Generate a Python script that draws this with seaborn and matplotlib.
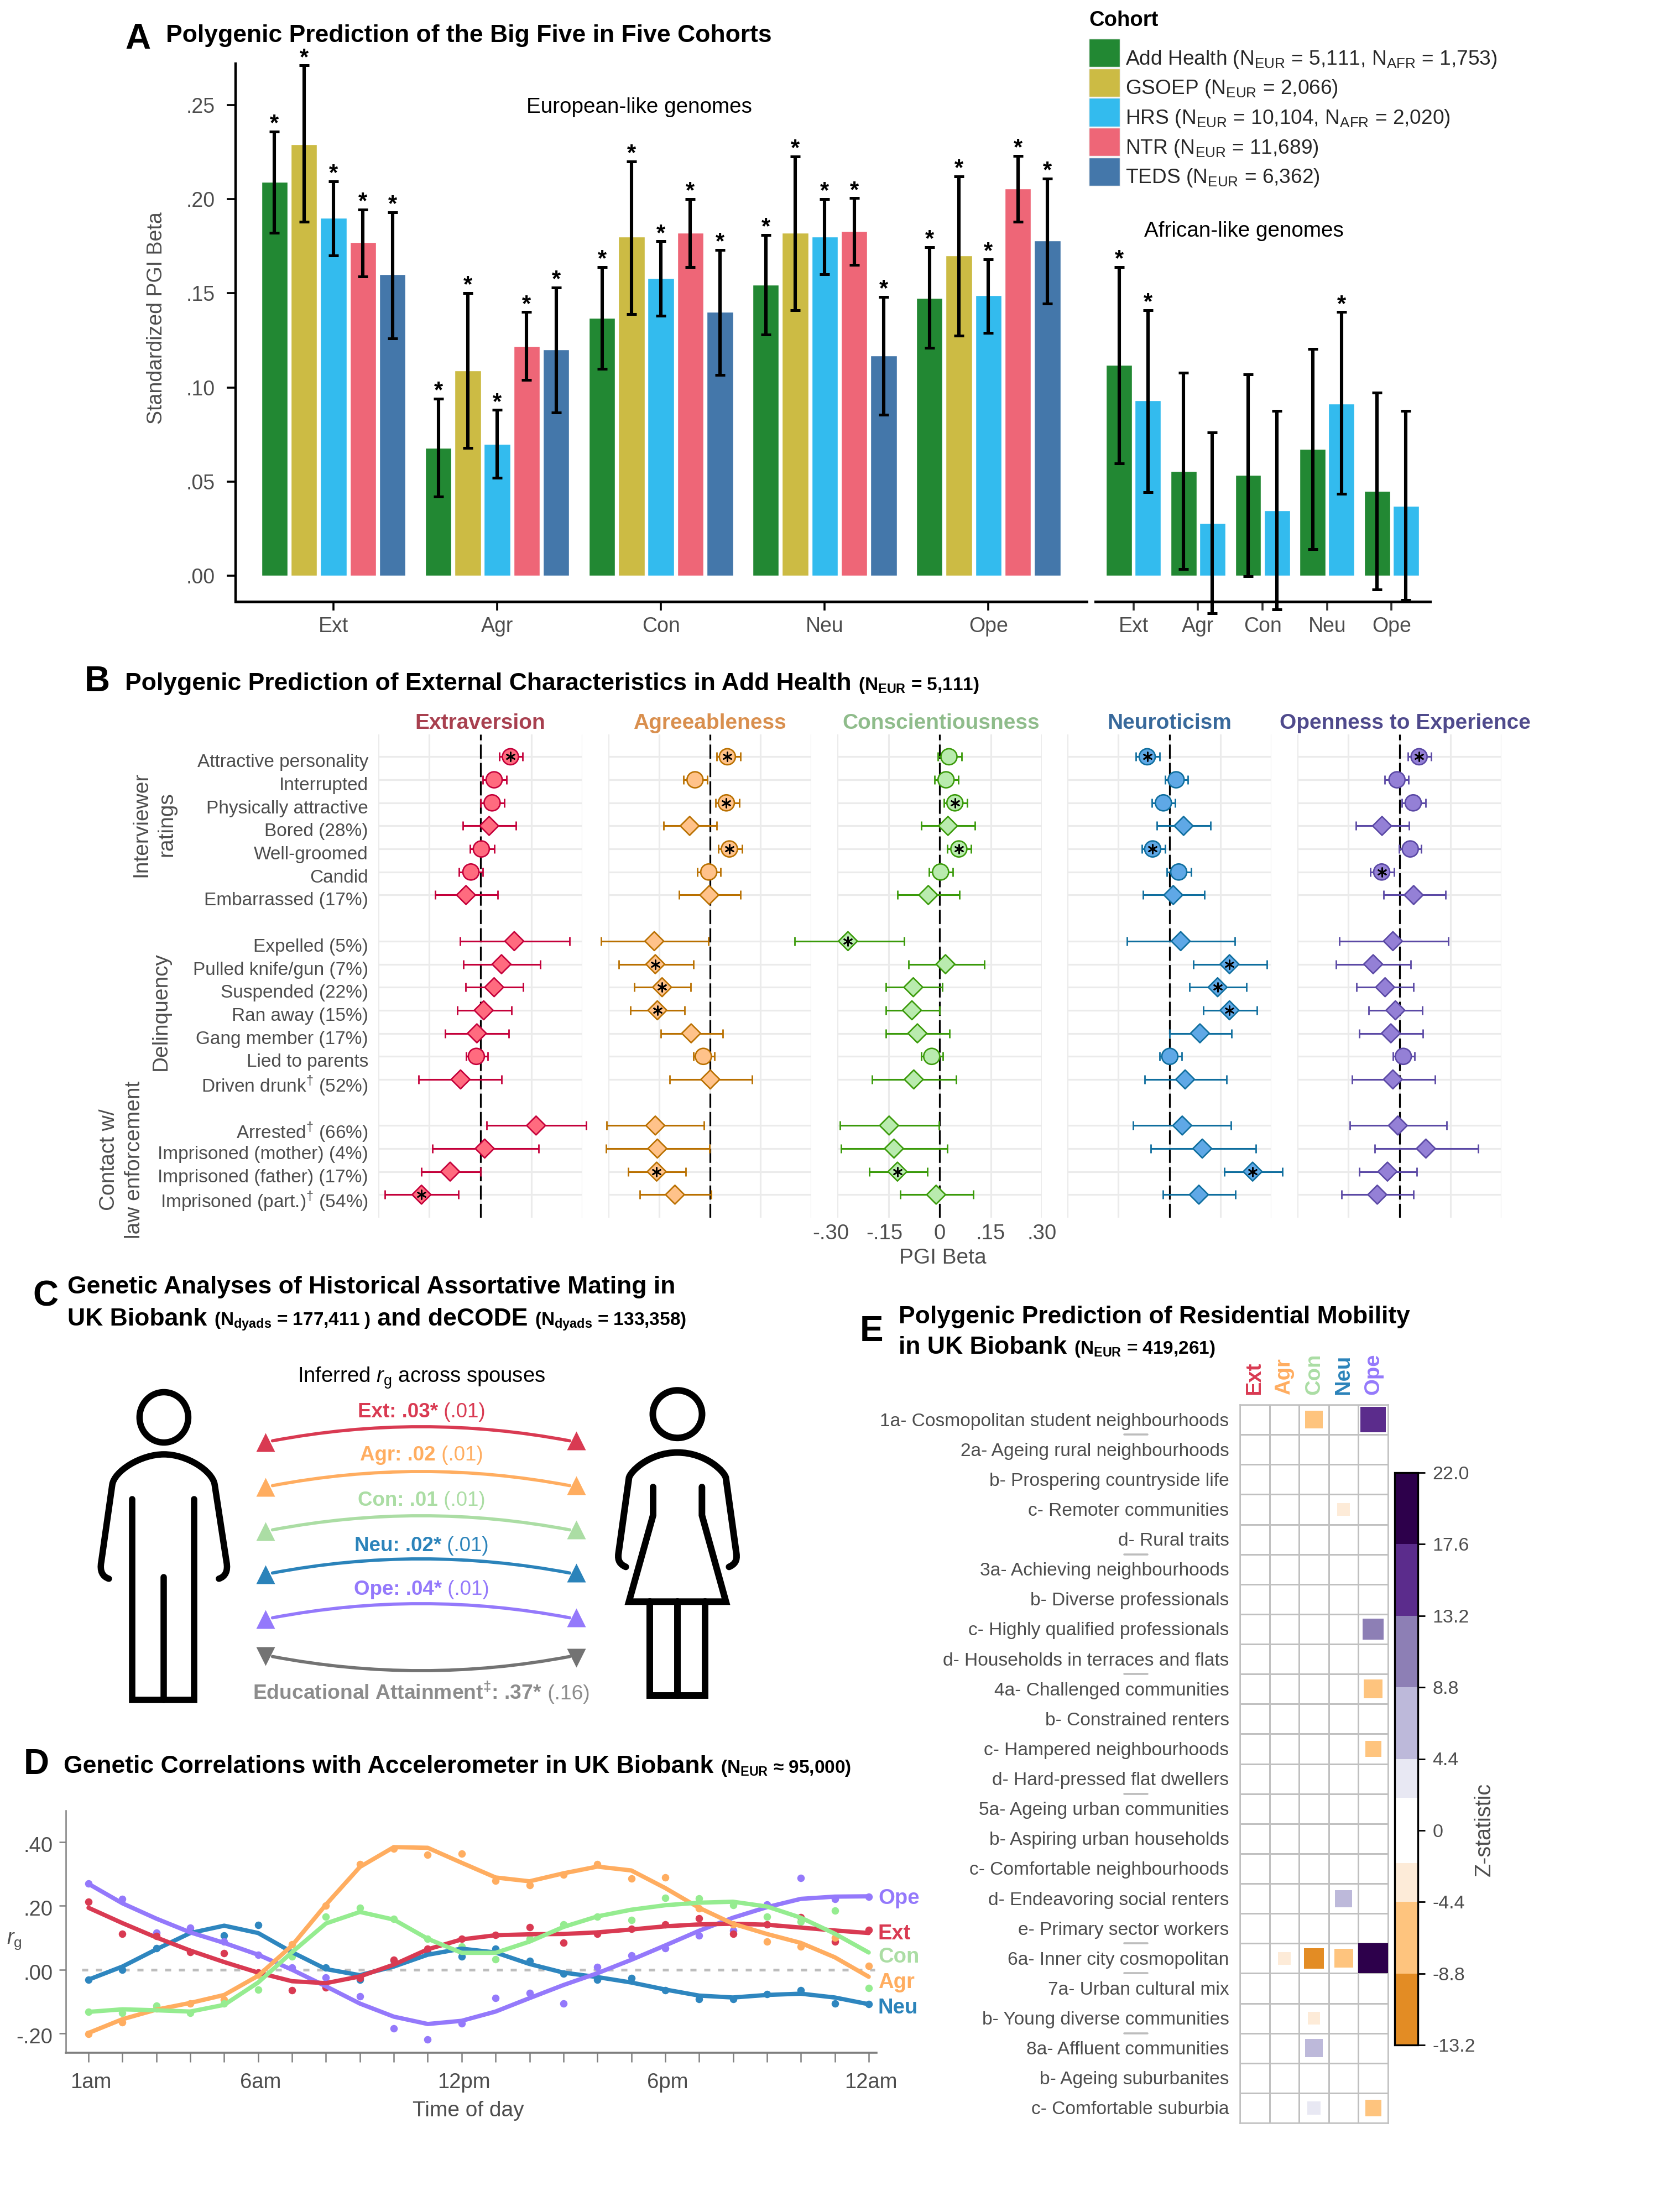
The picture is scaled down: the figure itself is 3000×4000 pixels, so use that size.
import numpy as np
import pandas as pd
import matplotlib
matplotlib.use('Agg')
import matplotlib.pyplot as plt
import seaborn as sns
from matplotlib.colors import ListedColormap, BoundaryNorm
from matplotlib.cm import ScalarMappable
from matplotlib.patches import Patch, Ellipse, PathPatch, Rectangle, FancyArrowPatch
from matplotlib.path import Path
from matplotlib.transforms import ScaledTranslation

sns.set_theme(style='white')
plt.rcParams['font.family'] = ['Liberation Sans', 'DejaVu Sans']
plt.rcParams['mathtext.fontset'] = 'custom'
plt.rcParams['mathtext.rm'] = 'Liberation Sans'
plt.rcParams['mathtext.it'] = 'Liberation Sans:italic'
plt.rcParams['mathtext.bf'] = 'Liberation Sans:bold'
plt.rcParams['mathtext.default'] = 'regular'

W, H = 3000, 4000
GREY = '#4D4D4D'

# ---- panel A data
traits = ['Ext', 'Agr', 'Con', 'Neu', 'Ope']
cohorts = ['Add Health', 'GSOEP', 'HRS', 'NTR', 'TEDS']
cohort_labels = [r'Add Health (N$_{EUR}$ = 5,111, N$_{AFR}$ = 1,753)',
                 r'GSOEP (N$_{EUR}$ = 2,066)',
                 r'HRS (N$_{EUR}$ = 10,104, N$_{AFR}$ = 2,020)',
                 r'NTR (N$_{EUR}$ = 11,689)',
                 r'TEDS (N$_{EUR}$ = 6,362)']
cohort_colors = ['#228833', '#CCBB44', '#33BBEE', '#EE6677', '#4477AA']

eur_beta = [[.209, .229, .190, .177, .160],
            [.068, .109, .070, .122, .120],
            [.137, .180, .158, .182, .140],
            [.1545, .182, .180, .183, .117],
            [.1475, .170, .149, .2055, .178]]
eur_lo = [[.182, .188, .170, .159, .126],
          [.042, .068, .052, .104, .0866],
          [.110, .139, .138, .164, .1066],
          [.128, .141, .160, .165, .0854],
          [.121, .1275, .129, .188, .1446]]
eur_hi = [[.236, .271, .2095, .1945, .193],
          [.094, .150, .088, .140, .153],
          [.164, .220, .1776, .200, .173],
          [.181, .2226, .200, .2005, .148],
          [.1745, .212, .168, .223, .211]]

afr_cohorts = ['Add Health', 'HRS']
afr_beta = [[.112, .093], [.0555, .028], [.0535, .0346], [.0672, .0915], [.045, .037]]
afr_lo = [[.0596, .0445], [.0036, -.020], [-.0004, -.018], [.014, .0434], [-.0074, -.013]]
afr_hi = [[.164, .141], [.1077, .076], [.1068, .0875], [.1205, .140], [.0973, .0875]]
afr_sig = [[True, True], [False, False], [False, False], [False, True], [False, False]]

# ---- panel B data
rows_b = ['Attractive personality', 'Interrupted', 'Physically attractive', 'Bored (28%)',
          'Well-groomed', 'Candid', 'Embarrassed (17%)',
          'Expelled (5%)', 'Pulled knife/gun (7%)', 'Suspended (22%)', 'Ran away (15%)',
          'Gang member (17%)', 'Lied to parents', r'Driven drunk$^{\dagger}$ (52%)',
          r'Arrested$^{\dagger}$ (66%)', 'Imprisoned (mother) (4%)',
          'Imprisoned (father) (17%)', r'Imprisoned (part.)$^{\dagger}$ (54%)']
row_pos = [0, 1, 2, 3, 4, 5, 6, 8, 9, 10, 11, 12, 13, 14, 16, 17, 18, 19]
row_shape = ['o', 'o', 'o', 'D', 'o', 'o', 'D', 'D', 'D', 'D', 'D', 'D', 'o', 'D', 'D', 'D', 'D', 'D']

ext_b = [.0886, .0407, .0348, .026, .003, -.0276, -.042, .100, .0624, .0407, .010, -.010, -.0116, -.058, .164, .013, -.0886, -.1728]
ext_lo = [.0566, .0073, .0015, -.052, -.0305, -.0624, -.132, -.0595, -.049, -.0436, -.0668, -.103, -.042, -.1815, .019, -.141, -.1728, -.280]
ext_hi = [.1249, .077, .0711, .1045, .0407, .0073, .051, .263, .1757, .1263, .0915, .084, .0218, .0624, .3107, .171, 0, -.065]
agr_b = [.052, -.0436, .049, -.0595, .058, -.003, -.0015, -.164, -.161, -.141, -.155, -.055, -.019, .0015, -.161, -.155, -.157, -.103]
agr_lo = [.020, -.077, .0174, -.1365, .026, -.036, -.090, -.322, -.2686, -.2236, -.234, -.145, -.049, -.119, -.305, -.3064, -.241, -.206]
agr_hi = [.090, -.007, .087, .020, .096, .032, .090, -.0044, -.049, -.0566, -.074, .038, .0145, .125, -.0174, -.0015, -.071, .0044]
con_b = [.0276, .019, .045, .0247, .0566, .003, -.033, -.2686, .0174, -.077, -.081, -.065, -.023, -.0755, -.148, -.1336, -.1234, -.010]
con_lo = [-.0044, -.0145, .013, -.0537, .023, -.0305, -.123, -.4254, -.0915, -.158, -.158, -.157, -.054, -.1975, -.292, -.289, -.206, -.115]
con_hi = [.0653, .055, .081, .1045, .093, .039, .058, -.1045, .1307, .0087, 0, .029, .010, .049, -.0015, .023, -.036, .0987]
neu_b = [-.065, .020, -.0174, .042, -.049, .0276, .0116, .0334, .177, .142, .177, .090, .0015, .0465, .038, .097, .245, .087]
neu_lo = [-.0987, -.013, -.052, -.036, -.081, -.007, -.078, -.125, .070, .0595, .100, 0, -.029, -.0726, -.106, -.055, .161, -.019]
neu_hi = [-.029, .055, .0174, .1205, -.013, .065, .103, .193, .2875, .2265, .2585, .183, .036, .168, .1815, .254, .3325, .1946]
ope_b = [.058, -.007, .0407, -.051, .032, -.052, .042, -.019, -.077, -.042, -.0116, -.025, .0116, -.019, -.0044, .078, -.035, -.065]
ope_lo = [.0247, -.0436, .007, -.128, -.0015, -.0857, -.0465, -.177, -.186, -.126, -.090, -.1176, -.019, -.139, -.145, -.0726, -.1176, -.170]
ope_hi = [.094, .0276, .077, .029, .065, -.016, .135, .144, .0334, .042, .0668, .0697, .045, .1045, .139, .232, .051, .042]

ext_sig = [0, 17]
agr_sig = [0, 2, 4, 8, 9, 10, 16]
con_sig = [2, 4, 7, 16]
neu_sig = [0, 4, 8, 9, 10, 16]
ope_sig = [0, 5]

# ---- panel D data
hours = list(range(1, 25))
ope_line = [.269, .208, .160, .117, .084, .047, 0, -.052, -.106, -.147, -.170, -.160, -.131, -.089, -.048, -.011, .031, .076, .122, .163, .196, .222, .229, .230]
ext_line = [.194, .146, .101, .060, .024, -.009, -.036, -.042, -.021, .016, .064, .095, .108, .111, .112, .117, .126, .136, .142, .144, .141, .132, .123, .115]
neu_line = [-.031, .010, .064, .115, .138, .115, .055, .002, -.017, .010, .047, .066, .054, .018, -.009, -.023, -.040, -.062, -.081, -.087, -.079, -.075, -.087, -.108]
con_line = [-.132, -.124, -.127, -.131, -.110, -.040, .055, .145, .181, .157, .097, .053, .053, .088, .134, .167, .188, .202, .210, .213, .198, .163, .113, .054]
agr_line = [-.198, -.155, -.125, -.104, -.079, -.019, .076, .204, .322, .384, .382, .335, .289, .277, .302, .323, .311, .256, .194, .144, .112, .084, .039, -.022]

ope_dots = [.270, .221, .116, .132, .088, .047, .006, -.025, -.083, -.183, -.219, -.168, -.089, -.073, -.105, .009, .044, .068, .107, .122, .204, .287, .221, .229]
ext_dots = [.213, .113, .105, .055, .051, -.009, -.065, -.056, -.027, .031, .065, .097, .109, .133, .084, .112, .128, .142, .161, .113, .142, .165, .088, .124]
neu_dots = [-.031, 0, .068, .122, .107, .140, .047, .006, -.031, .029, .055, .041, .065, .028, -.012, -.031, -.026, -.065, -.092, -.092, -.077, -.064, -.106, -.108]
con_dots = [-.131, -.136, -.112, -.135, -.106, -.062, .041, .166, .194, .159, .097, .072, .032, .097, .142, .166, .155, .225, .223, .203, .166, .151, .185, -.057]
agr_dots = [-.201, -.164, -.122, -.106, -.093, -.015, .080, .200, .330, .380, .360, .363, .279, .264, .298, .330, .286, .289, .192, .142, .088, .072, .101, .012]

# ---- panel E data
rows_e = ['1a- Cosmopolitan student neighbourhoods', '2a- Ageing rural neighbourhoods',
          'b- Prospering countryside life', 'c- Remoter communities', 'd- Rural traits',
          '3a- Achieving neighbourhoods', 'b- Diverse professionals',
          'c- Highly qualified professionals', 'd- Households in terraces and flats',
          '4a- Challenged communities', 'b- Constrained renters', 'c- Hampered neighbourhoods',
          'd- Hard-pressed flat dwellers', '5a- Ageing urban communities',
          'b- Aspiring urban households', 'c- Comfortable neighbourhoods',
          'd- Endeavoring social renters', 'e- Primary sector workers',
          '6a- Inner city cosmopolitan', '7a- Urban cultural mix', 'b- Young diverse communities',
          '8a- Affluent communities', 'b- Ageing suburbanites', 'c- Comfortable suburbia']
# only the cells that carry a value: (row, trait, z)
z_rows = [0, 0, 3, 7, 9, 11, 16, 18, 18, 18, 18, 20, 21, 23, 23]
z_cols = ['Con', 'Ope', 'Neu', 'Ope', 'Ope', 'Ope', 'Neu', 'Agr', 'Con', 'Neu', 'Ope', 'Con', 'Con', 'Con', 'Ope']
z_vals = [-7.9, 16.5, -4.0, 10.8, -8.7, -6.4, 7.2, -4.0, -10.2, -8.75, 22.0, -4.0, 7.9, 4.3, -6.4]
z_bounds = [-13.2, -8.8, -4.4, -2.0, 2.0, 4.4, 8.8, 13.2, 17.6, 22.0]
z_colors = ['#E38C24', '#FEC47E', '#FDEBD8', '#FFFFFF', '#E8E8F3', '#BDB9DA', '#8D7FB5', '#5B2C8C', '#2D004B']
z_ticks = [22.0, 17.6, 13.2, 8.8, 4.4, 0, -4.4, -8.8, -13.2]
z_ticklabels = ['22.0', '17.6', '13.2', '8.8', '4.4', '0', '-4.4', '-8.8', '-13.2']

# trait colours used in C, D, E
tc = {'Ext': '#D93A52', 'Agr': '#FFAD60', 'Con': '#ABDDA4', 'Neu': '#2B83BA', 'Ope': '#9479FB'}


def axpx(l, t, r, b, **kw):
    return fig.add_axes([l / W, 1 - b / H, (r - l) / W, (b - t) / H], **kw)


def nudge(label, dx, dy):
    # move a tick label by some pixels, dy down
    label.set_transform(label.get_transform() + ScaledTranslation(dx / 100, -dy / 100, fig.dpi_scale_trans))


fig = plt.figure(figsize=(30, 40), dpi=100, facecolor='white')

# overlay in pixel coordinates for headers and the drawing in panel C
ov = fig.add_axes([0, 0, 1, 1], zorder=10)
ov.set_xlim(0, W)
ov.set_ylim(H, 0)
ov.axis('off')
ov.patch.set_alpha(0)


def rich(parts, x, y, ha='left'):
    # run of text pieces with their own size/weight/colour on one baseline
    rend = fig.canvas.get_renderer()
    items = []
    pos = 0
    for s, size, weight, color in parts:
        t = ov.text(0, y, s, fontsize=size, fontweight=weight, color=color, va='baseline', ha='left')
        w = t.get_window_extent(rend).width
        items.append((t, pos))
        pos += w
    x0 = x - pos / 2 if ha == 'center' else x
    for t, p in items:
        t.set_x(x0 + p)


TS = 32
SUB = 24


def header(letter, lx, ly, lines):
    ov.text(lx, ly, letter, fontsize=46, fontweight='bold', color='black', ha='center', va='baseline')
    for parts, x, y in lines:
        rich(parts, x, y)


# ---- panel A
def bars(ax, beta, lo, hi, names, colors, sig, width, gap):
    df = pd.DataFrame({'trait': np.repeat(traits, len(names)),
                       'cohort': names * len(traits),
                       'beta': np.ravel(beta)})
    sns.barplot(data=df, x='trait', y='beta', hue='cohort', hue_order=names, palette=colors,
                saturation=1, width=width, gap=gap, errorbar=None, legend=False, ax=ax)
    patches = [p for p in ax.patches if p.get_height() != 0]
    patches = sorted(patches, key=lambda p: p.get_x())
    for p, l, h, s in zip(patches, np.ravel(lo), np.ravel(hi), np.ravel(sig)):
        xc = p.get_x() + p.get_width() / 2
        eb = ax.errorbar(xc, (l + h) / 2, yerr=(h - l) / 2, color='black', elinewidth=4.4,
                         capsize=6.5, capthick=3.6, zorder=5)
        for art in eb.lines[1] + eb.lines[2]:
            art.set_clip_on(False)
        if s:
            ax.annotate('*', (xc, h), xytext=(0, 2), textcoords='offset points', ha='center',
                        va='baseline', fontsize=30, fontweight='bold', color='black',
                        annotation_clip=False)
    ax.set_xlabel('')
    ax.set_ylabel('')
    ax.patch.set_alpha(0)
    sns.despine(ax=ax)


ax = axpx(426, 115, 1965, 1088)
bars(ax, eur_beta, eur_lo, eur_hi, cohorts, cohort_colors, np.ones((5, 5), bool), .9, .11)
ax.set_xlim(-.598, 4.6)
ax.set_ylim(-.0138, .272)
ax.set_yticks([0, .05, .10, .15, .20, .25])
ax.set_yticklabels(['.00', '.05', '.10', '.15', '.20', '.25'])
ax.tick_params(axis='y', left=True, length=11.5, width=2.6, color='black', labelsize=27, labelcolor=GREY, pad=15)
ax.tick_params(axis='x', bottom=True, length=11.5, width=2.6, color='black', labelsize=27, labelcolor=GREY, pad=8)
ax.spines['left'].set_linewidth(3.2)
ax.spines['left'].set_color('black')
ax.spines['bottom'].set_linewidth(3.6)
ax.spines['bottom'].set_color('black')
ov.text(283, 575, 'Standardized PGI Beta', rotation=90, fontsize=27, color=GREY, ha='center', va='center')
ov.text(1156, 194, 'European-like genomes', fontsize=27.8, color='black', ha='center', va='center')

ax = axpx(1981, 115, 2586, 1088)
bars(ax, afr_beta, afr_lo, afr_hi, afr_cohorts, [cohort_colors[0], cohort_colors[2]], afr_sig, .892, .1)
ax.set_xlim(-.59, 4.597)
ax.set_ylim(-.0138, .272)
ax.set_yticks([])
ax.spines['left'].set_visible(False)
ax.spines['bottom'].set_linewidth(3.6)
ax.spines['bottom'].set_color('black')
ax.tick_params(axis='x', bottom=True, length=11.5, width=2.6, color='#333333', labelsize=27, labelcolor=GREY, pad=8)
ov.text(2249, 418, 'African-like genomes', fontsize=27.8, color='black', ha='center', va='center')

ov.text(1969, 37, 'Cohort', fontsize=27.5, fontweight='bold', color='black', ha='left', va='center')
leg = fig.legend(handles=[Patch(facecolor=c, edgecolor='#EDEDED', linewidth=1) for c in cohort_colors],
                 labels=cohort_labels, loc='upper left', bbox_to_anchor=(1969 / W, 1 - 70 / H),
                 frameon=False, fontsize=26.7, handlelength=1.51, handleheight=1.75,
                 labelspacing=.065, handletextpad=.26, borderpad=0, borderaxespad=0)
for t in leg.get_texts():
    t.set_y(-9)

header('A', 249, 88, [([('Polygenic Prediction of the Big Five in Five Cohorts', TS, 'bold', 'black')], 300, 76)])

# ---- panel B
panels_b = [('Extraversion', 684, 1053, 0, ext_b, ext_lo, ext_hi, ext_sig, '#FF6B7F', '#C4003A', '#A8404F'),
            ('Agreeableness', 1100, 1467, 0, agr_b, agr_lo, agr_hi, agr_sig, '#FFC28A', '#B97000', '#D98F4E'),
            ('Conscientiousness', 1514, 1884, 3, con_b, con_lo, con_hi, con_sig, '#B9EBAE', '#3A9A0A', '#8FBC8B'),
            ('Neuroticism', 1930, 2299, 0, neu_b, neu_lo, neu_hi, neu_sig, '#5FA8E6', '#0F6E9E', '#38699B'),
            ('Openness to Experience', 2346, 2715, 10, ope_b, ope_lo, ope_hi, ope_sig, '#9480D6', '#5B49A5', '#4F4A8C')]

for i, (name, l, r, dx, b, lo, hi, sig, fill, edge, tcol) in enumerate(panels_b):
    ax = axpx(l, 1328, r, 2202)
    ax.patch.set_alpha(0)
    df = pd.DataFrame({'beta': b, 'row': row_pos, 'shape': row_shape})
    ax.set_xlim(-.30, .30)
    ax.set_ylim(20.0, -.97)
    ax.set_xticks([-.30, -.15, 0, .15, .30])
    ax.set_yticks(row_pos)
    ax.grid(True, color='#EBEBEB', linewidth=2.3)
    ax.set_axisbelow(True)
    sns.despine(ax=ax, left=True, bottom=True)
    ax.axvline(0, color='black', linewidth=2.3, linestyle=(0, (8, 2.4)), zorder=2)
    eb = ax.errorbar(b, row_pos, xerr=[np.array(b) - np.array(lo), np.array(hi) - np.array(b)],
                     fmt='none', ecolor=edge, elinewidth=2.2, capsize=5.8, capthick=2, zorder=3)
    for art in eb.lines[1] + eb.lines[2]:
        art.set_clip_on(False)
    sns.scatterplot(data=df, x='beta', y='row', style='shape', markers={'o': 'o', 'D': 'D'},
                    size='shape', sizes={'o': 436, 'D': 300}, color=fill, edgecolor=edge,
                    linewidth=1.9, legend=False, ax=ax, zorder=4, clip_on=False)
    sns.scatterplot(x=[b[j] for j in sig], y=[row_pos[j] for j in sig], marker=(6, 2, 0), s=130,
                    color='black', linewidth=1.9, legend=False, ax=ax, zorder=5)
    ax.set_xlabel('')
    ax.set_ylabel('')
    ax.tick_params(axis='both', length=0)
    ax.set_xticklabels(['-.30', '-.15', '0', '.15', '.30'] if i == 2 else [])
    ax.tick_params(axis='x', labelsize=27.5, labelcolor=GREY, pad=8)
    if i == 2:
        nudge(ax.get_xticklabels()[0], -12, 0)
        nudge(ax.get_xticklabels()[1], -7, 0)
    if i == 0:
        ax.set_yticklabels(rows_b, fontsize=24, color=GREY)
        ax.tick_params(axis='y', pad=13)
        # row labels sit a little below their gridlines
        for t in ax.get_yticklabels():
            nudge(t, 0, 7)
    else:
        ax.set_yticklabels([])
    ov.text((l + r) / 2 + dx, 1318, name, fontsize=28, fontweight='bold', color=tcol, ha='center', va='baseline')

ov.text(1705, 2275, 'PGI Beta', fontsize=28, color=GREY, ha='center', va='center')
ov.text(278, 1491, 'Interviewer\nratings', rotation=90, fontsize=28, color=GREY, ha='center', va='center', multialignment='center', linespacing=1.35)
ov.text(291, 1829, 'Delinquency', rotation=90, fontsize=28, color=GREY, ha='center', va='center')
ov.text(220, 2097, 'Contact w/\nlaw enforcement', rotation=90, fontsize=28, color=GREY, ha='center', va='center', multialignment='center', linespacing=1.35)

header('B', 176, 1250, [([('Polygenic Prediction of External Characteristics in Add Health ', TS, 'bold', 'black'),
                          (r'(N$_{EUR}$ = 5,111)', SUB, 'bold', 'black')], 226, 1248)])

# ---- panel C
header('C', 82, 2362, [([('Genetic Analyses of Historical Assortative Mating in', TS, 'bold', 'black')], 122, 2339),
                       ([('UK Biobank ', TS, 'bold', 'black'), (r'(N$_{dyads}$ = 177,411 )', SUB, 'bold', 'black'),
                         (' and deCODE ', TS, 'bold', 'black'), (r'(N$_{dyads}$ = 133,358)', SUB, 'bold', 'black')], 122, 2397)])

ov.text(762, 2492, r'Inferred $\mathit{r}_{g}$ across spouses', fontsize=27.5, color='black', ha='center', va='center')

arrow_rows = [('Ext', ': .03*', ' (.01)', 2550, 2579),
              ('Agr', ': .02', ' (.01)', 2628, 2660),
              ('Con', ': .01', ' (.01)', 2710, 2740),
              ('Neu', ': .02*', ' (.01)', 2792, 2818),
              ('Ope', ': .04*', ' (.01)', 2871, 2899)]
for nm, val, se, ty, my in arrow_rows:
    col = tc[nm]
    rich([(nm + val, 26.5, 'bold', col), (se, 26.5, 'normal', col)], 762, ty + 13, ha='center')
    ov.add_patch(FancyArrowPatch((490, my + 27), (1033, my + 27), arrowstyle='-', color=col, linewidth=4.2,
                                 connectionstyle='arc3,rad=-0.096', zorder=3))
    ov.scatter([480, 1042], [my + 29, my + 26], marker='^', s=600, color=col, linewidths=0, zorder=4)

ov.add_patch(FancyArrowPatch((490, 2995), (1033, 2995), arrowstyle='-', color='#737373', linewidth=4.2,
                             connectionstyle='arc3,rad=0.096', zorder=3))
ov.scatter([480, 1042], [2995, 2998], marker='v', s=600, color='#737373', linewidths=0, zorder=4)
rich([(r'Educational Attainment$^{\ddagger}$: .37*', 26.8, 'bold', '#8C8C8C'), (' (.16)', 26.8, 'normal', '#8C8C8C')], 762, 3073, ha='center')

mx = lambda x: x / 1.3067 + 40
my_ = lambda y: y / 1.823 + 2320
wx = lambda x: x / 3.0 + 1060
wy = lambda y: y / 2.306 + 2480
M, L, C = Path.MOVETO, Path.LINETO, Path.CURVE4

man_body = [(205, 975), (190, 968), (183, 950), (187, 920), (213, 665), (218, 620), (280, 565), (335, 565),
            (390, 565), (450, 620), (455, 665), (483, 920), (487, 950), (480, 968), (465, 975)]
body_codes = [M, C, C, C, L, C, C, C, C, C, C, L, C, C, C]
ov.add_patch(PathPatch(Path([(mx(x), my_(y)) for x, y in man_body], body_codes), fill=False, edgecolor='black',
                       linewidth=8.3, capstyle='round'))
ov.add_patch(Ellipse((mx(335), my_(443)), 2 * 44, 2 * 45.5, fill=False, edgecolor='black', linewidth=8.3))
man_legs = [[(260, 712), (260, 1375), (407, 1375), (407, 712)], [(335, 970), (335, 1375)]]
for seg in man_legs:
    ov.plot([mx(p[0]) for p in seg], [my_(p[1]) for p in seg], color='black', linewidth=8.3,
            solid_capstyle='round', solid_joinstyle='miter')

woman_body = [(215, 815), (185, 805), (170, 790), (175, 760), (232, 445), (236, 420), (340, 338), (495, 338),
              (650, 338), (754, 420), (758, 445), (815, 760), (820, 790), (805, 805), (775, 815)]
ov.add_patch(PathPatch(Path([(wx(x), wy(y)) for x, y in woman_body], body_codes), fill=False, edgecolor='black',
                       linewidth=8.6, capstyle='round'))
ov.add_patch(Ellipse((wx(495), wy(178)), 2 * 44.5, 2 * 43, fill=False, edgecolor='black', linewidth=8.6))
woman_lines = [[(363, 482), (363, 600), (232, 960), (758, 960), (628, 600), (628, 482)],
               [(345, 960), (345, 1352), (645, 1352), (645, 960)], [(495, 960), (495, 1352)]]
for seg in woman_lines:
    ov.plot([wx(p[0]) for p in seg], [wy(p[1]) for p in seg], color='black', linewidth=8.6,
            solid_capstyle='round', solid_joinstyle='miter')

# ---- panel D
header('D', 66, 3208, [([('Genetic Correlations with Accelerometer in UK Biobank ', TS, 'bold', 'black'),
                         (r'(N$_{EUR}$ ≈ 95,000)', SUB, 'bold', 'black')], 115, 3206)])

ax = axpx(119, 3274, 1585, 3712)
ax.patch.set_alpha(0)
ax.axhline(0, xmin=.02, xmax=.998, color='#BDBDBD', linewidth=3.6, linestyle=(0, (2.2, 2.8)), zorder=1)
line_sets = [('Neu', neu_line, neu_dots, '#2E86BF'), ('Ope', ope_line, ope_dots, '#9479FB'),
             ('Ext', ext_line, ext_dots, '#D93A52'), ('Agr', agr_line, agr_dots, '#FFAD60'),
             ('Con', con_line, con_dots, '#95EC90')]
for nm, yl, yd, col in line_sets:
    sns.scatterplot(x=hours, y=yd, color=col, s=95, linewidth=0, ax=ax, zorder=2, clip_on=False)
for nm, yl, yd, col in line_sets:
    sns.lineplot(x=hours, y=yl, color=col, linewidth=5.6, ax=ax, zorder=3, errorbar=None)
ax.set_xlim(.33, 24.23)
ax.set_ylim(-.26, .4987)
ax.set_xticks(hours)
ax.set_xticklabels(['1am' if h == 1 else '6am' if h == 6 else '12pm' if h == 12 else '6pm' if h == 18
                    else '12am' if h == 24 else '' for h in hours])
ax.set_yticks([-.20, 0, .20, .40])
ax.set_yticklabels(['-.20', '.00', '.20', '.40'])
sns.despine(ax=ax)
for s in ['left', 'bottom']:
    ax.spines[s].set_color('#7F7F7F')
ax.spines['left'].set_linewidth(1.8)
ax.spines['bottom'].set_linewidth(2.6)
ax.tick_params(axis='x', bottom=True, length=12, width=1.8, color='#7F7F7F', labelsize=27.5, labelcolor=GREY, pad=14)
ax.tick_params(axis='y', left=True, length=9, width=1.8, color='#7F7F7F', labelsize=27.5, labelcolor=GREY, pad=8)
for t in ax.get_yticklabels():
    nudge(t, 0, 4)
for t in ax.get_xticklabels():
    nudge(t, 4, 0)
ov.text(847, 3817, 'Time of day', fontsize=28, color=GREY, ha='center', va='center')
ov.text(26, 3510, r'$\mathit{r}_{g}$', fontsize=27, color=GREY, ha='center', va='center')
end_labels = [('Ope', 3433), ('Ext', 3497), ('Con', 3539), ('Agr', 3585), ('Neu', 3631)]
for nm, py in end_labels:
    ov.text(1588, py, nm, fontsize=27.5, fontweight='bold', color=tc[nm], ha='left', va='center')

# ---- panel E
header('E', 1576, 2425, [([('Polygenic Prediction of Residential Mobility', TS, 'bold', 'black')], 1625, 2393),
                         ([('in UK Biobank ', TS, 'bold', 'black'), (r'(N$_{EUR}$ = 419,261)', SUB, 'bold', 'black')], 1625, 2448)])

ax = axpx(2242, 2540, 2510, 3839)
blank = pd.DataFrame(np.zeros((len(rows_e), len(traits))), index=rows_e, columns=traits)
sns.heatmap(blank, cmap=ListedColormap(['white']), cbar=False, linewidths=1.8, linecolor='#C0C0C0', ax=ax, vmin=0, vmax=1)
for s in ax.spines.values():
    s.set_visible(True)
    s.set_color('#C0C0C0')
    s.set_linewidth(1.8)
cmap_z = ListedColormap(z_colors)
norm_z = BoundaryNorm(z_bounds, cmap_z.N)
for r_i, c_n, z in zip(z_rows, z_cols, z_vals):
    side = np.sqrt(abs(z) / 22.0)
    c_i = traits.index(c_n)
    ax.add_patch(Rectangle((c_i + .5 - side / 2, r_i + .5 - side / 2), side, side,
                           facecolor=cmap_z(norm_z(z)), edgecolor='none', zorder=3))
ax.xaxis.tick_top()
ax.set_xticklabels(traits, rotation=90, fontsize=27.5, fontweight='bold')
for lab, nm in zip(ax.get_xticklabels(), traits):
    lab.set_color(tc[nm])
ax.set_yticklabels(rows_e, rotation=0, fontsize=24.1, color=GREY)
ax.tick_params(axis='both', length=0)
ax.tick_params(axis='x', pad=13)
ax.tick_params(axis='y', pad=14)
for t in ax.get_yticklabels():
    nudge(t, 0, 3)
for r_i in [0, 4, 8, 12, 17, 18, 20]:
    ax.plot([-3.89, -3.11], [r_i + 1, r_i + 1], color='#BDBDBD', linewidth=2.6, clip_on=False)

cax = axpx(2522, 2663, 2564, 3698)
cb = fig.colorbar(ScalarMappable(norm=norm_z, cmap=cmap_z), cax=cax, spacing='proportional', ticks=z_ticks)
cb.ax.set_yticklabels(z_ticklabels)
cb.ax.tick_params(length=9, width=2, color='black', labelsize=24.5, labelcolor=GREY, pad=10)
cb.outline.set_edgecolor('black')
cb.outline.set_linewidth(2.4)
cb.ax.minorticks_off()
ov.text(2684, 3308, 'Z-statistic', rotation=90, fontsize=28.5, color=GREY, ha='center', va='center')

fig.savefig('out.png', dpi=100, facecolor='white')
